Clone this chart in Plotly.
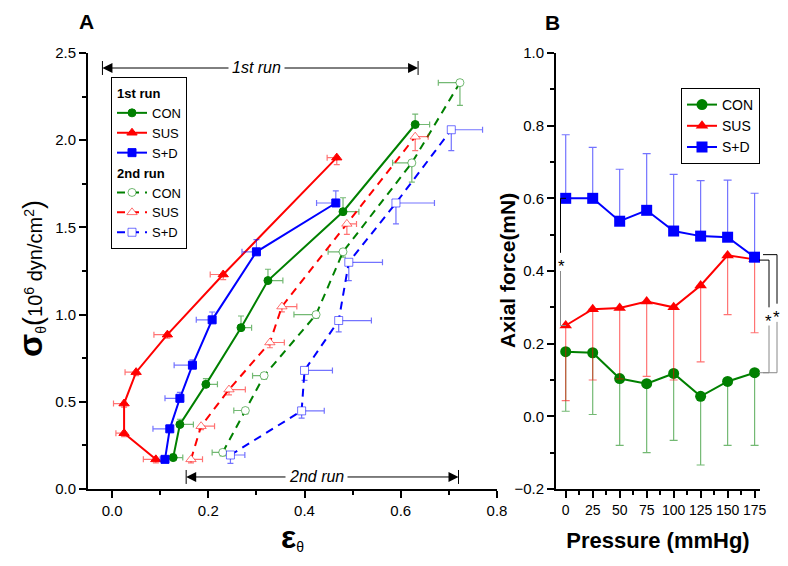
import plotly.graph_objects as go

# ---- panel A : circumferential stress vs strain ----
strain_con1 = [0.127, 0.141, 0.195, 0.268, 0.324, 0.480, 0.630]
stress_con1 = [0.18, 0.37, 0.60, 0.925, 1.195, 1.59, 2.09]
strain_con1_err = [0.020, 0.028, 0.024, 0.022, 0.031, 0.033, 0.030]
stress_con1_err = [0.02, 0.03, 0.033, 0.067, 0.065, 0.08, 0.06]

strain_sus1 = [0.091, 0.025, 0.025, 0.050, 0.115, 0.231, 0.467]
stress_sus1 = [0.17, 0.32, 0.49, 0.67, 0.885, 1.23, 1.90]
strain_sus1_err = [0.026, 0.017, 0.022, 0.023, 0.028, 0.027, 0.020]
stress_sus1_err = [0.02, 0.02, 0.02, 0.02, 0.02, 0.03, 0.04]

strain_sd1 = [0.110, 0.120, 0.141, 0.167, 0.208, 0.300, 0.465]
stress_sd1 = [0.17, 0.345, 0.52, 0.71, 0.97, 1.36, 1.64]
strain_sd1_err = [0.010, 0.035, 0.031, 0.038, 0.033, 0.030, 0.040]
stress_sd1_err = [0.01, 0.02, 0.034, 0.03, 0.045, 0.07, 0.07]

strain_con2 = [0.230, 0.277, 0.316, 0.424, 0.480, 0.623, 0.723]
stress_con2 = [0.21, 0.45, 0.65, 1.00, 1.36, 1.87, 2.33]
strain_con2_err = [0.022, 0.024, 0.024, 0.046, 0.031, 0.040, 0.045]
stress_con2_err = [0.02, 0.02, 0.02, 0.02, 0.03, 0.11, 0.13]

strain_sus2 = [0.164, 0.185, 0.243, 0.328, 0.353, 0.488, 0.630]
stress_sus2 = [0.17, 0.36, 0.57, 0.84, 1.046, 1.52, 2.02]
strain_sus2_err = [0.024, 0.028, 0.034, 0.030, 0.031, 0.020, 0.027]
stress_sus2_err = [0.02, 0.02, 0.03, 0.03, 0.03, 0.06, 0.08]

strain_sd2 = [0.246, 0.394, 0.400, 0.471, 0.492, 0.590, 0.705]
stress_sd2 = [0.195, 0.448, 0.68, 0.966, 1.30, 1.64, 2.06]
strain_sd2_err = [0.030, 0.047, 0.058, 0.068, 0.070, 0.080, 0.065]
stress_sd2_err = [0.048, 0.042, 0.057, 0.065, 0.105, 0.12, 0.12]

# ---- panel B : axial force vs pressure ----
pressure = [0, 25, 50, 75, 100, 125, 150, 175]
force_con = [0.178, 0.175, 0.104, 0.090, 0.118, 0.055, 0.096, 0.120]
force_con_err = [0.164, 0.170, 0.184, 0.190, 0.184, 0.189, 0.176, 0.200]
force_sus = [0.250, 0.295, 0.298, 0.316, 0.300, 0.360, 0.443, 0.432]
force_sus_err = [0.207, 0.195, 0.195, 0.206, 0.200, 0.210, 0.163, 0.202]
force_sd = [0.600, 0.600, 0.537, 0.567, 0.510, 0.496, 0.493, 0.438]
force_sd_err = [0.175, 0.140, 0.143, 0.156, 0.156, 0.153, 0.157, 0.176]

GREEN = 'rgb(0,128,0)'
RED = 'rgb(255,0,0)'
BLUE = 'rgb(0,0,255)'
GREEN_L = 'rgba(0,128,0,0.55)'
RED_L = 'rgba(255,0,0,0.55)'
BLUE_L = 'rgba(0,0,255,0.55)'
FONT = 'Liberation Sans, Arial, sans-serif'

# the page body keeps its 8px default margin, so the figure is drawn 8px in from the corner
W, H, OFF = 772, 550, 8


def px(x):
    return (x - OFF) / W


def py(y):
    return 1 - (y - OFF) / H


def err(vals, side):
    zeros = [0] * len(vals)
    if side == 'plus':
        return dict(array=vals, arrayminus=zeros)
    return dict(array=zeros, arrayminus=vals)


def strain_trace(x, y, xe, ye, xside, yside, name, color, light, symbol, dashed, group, title):
    open_marker = dashed
    return go.Scatter(
        x=x, y=y, name=name, mode='lines+markers',
        line=dict(color=color, width=2, dash='8px,6px' if dashed else 'solid'),
        marker=dict(symbol=symbol, size=8 if symbol != 'triangle-up' else 9,
                    color='white' if open_marker else color,
                    line=dict(color=light if open_marker else color, width=1)),
        error_x=dict(type='data', symmetric=False, color=light, thickness=1.2, width=3, **err(xe, xside)),
        error_y=dict(type='data', symmetric=False, color=light, thickness=1.2, width=3, **err(ye, yside)),
        legendgroup=group, legendgrouptitle=dict(text=title) if title else None,
        legend='legend', xaxis='x', yaxis='y',
    )


def force_trace(y, ye, side, name, color, light, symbol):
    return go.Scatter(
        x=pressure, y=y, name=name, mode='lines+markers',
        line=dict(color=color, width=2),
        marker=dict(symbol=symbol, size=11, color=color),
        error_y=dict(type='data', symmetric=False, color=light, thickness=1.2, width=4, **err(ye, side)),
        legend='legend2', xaxis='x2', yaxis='y2',
    )


fig = go.Figure()
fig.add_trace(strain_trace(strain_con1, stress_con1, strain_con1_err, stress_con1_err, 'plus', 'plus',
                           'CON', GREEN, GREEN_L, 'circle', False, 'run1', '1st run'))
fig.add_trace(strain_trace(strain_sus1, stress_sus1, strain_sus1_err, stress_sus1_err, 'minus', 'minus',
                           'SUS', RED, RED_L, 'triangle-up', False, 'run1', None))
fig.add_trace(strain_trace(strain_sd1, stress_sd1, strain_sd1_err, stress_sd1_err, 'minus', 'plus',
                           'S+D', BLUE, BLUE_L, 'square', False, 'run1', None))
fig.add_trace(strain_trace(strain_con2, stress_con2, strain_con2_err, stress_con2_err, 'minus', 'minus',
                           'CON', GREEN, GREEN_L, 'circle', True, 'run2', '2nd run'))
fig.add_trace(strain_trace(strain_sus2, stress_sus2, strain_sus2_err, stress_sus2_err, 'plus', 'minus',
                           'SUS', RED, RED_L, 'triangle-up', True, 'run2', None))
fig.add_trace(strain_trace(strain_sd2, stress_sd2, strain_sd2_err, stress_sd2_err, 'plus', 'minus',
                           'S+D', BLUE, BLUE_L, 'square', True, 'run2', None))

fig.add_trace(force_trace(force_con, force_con_err, 'minus', 'CON', GREEN, GREEN_L, 'circle'))
fig.add_trace(force_trace(force_sus, force_sus_err, 'minus', 'SUS', RED, RED_L, 'triangle-up'))
fig.add_trace(force_trace(force_sd, force_sd_err, 'plus', 'S+D', BLUE, BLUE_L, 'square'))

axis_style = dict(showline=True, linecolor='black', linewidth=1.8, ticks='outside', ticklen=7,
                  tickwidth=1.5, tickcolor='black', showgrid=False, zeroline=False, automargin=False,
                  tickfont=dict(family=FONT, size=15, color='black'))


def minor(d):
    return dict(ticks='outside', ticklen=4, tickwidth=1.5, tickcolor='black', dtick=d, showgrid=False)


fig.update_layout(
    width=W, height=H,
    margin=dict(l=0, r=0, t=0, b=0),
    plot_bgcolor='white', paper_bgcolor='white',
    font=dict(family=FONT, color='black'),
    xaxis=dict(axis_style, domain=[px(88), px(497)], range=[-0.05, 0.8], dtick=0.2, tickformat='.1f',
               minor=minor(0.1), anchor='y',
               title=dict(text='<span style="font-size:32px"><b>ε</b></span><sub>θ</sub>',
                          font=dict(size=20), standoff=0)),
    yaxis=dict(axis_style, domain=[py(489), py(53)], range=[0, 2.5], dtick=0.5, tickformat='.1f',
               minor=minor(0.25), anchor='x'),
    xaxis2=dict(axis_style, domain=[px(556), px(760)], range=[-9, 180], tickvals=pressure,
                minor=minor(12.5), anchor='y2', tickfont=dict(family=FONT, size=14, color='black'),
                title=dict(text='<b>Pressure (mmHg)</b>', font=dict(size=22), standoff=16)),
    yaxis2=dict(axis_style, domain=[py(489), py(53)], range=[-0.2, 1.0], dtick=0.2, tickformat='.1f',
                minor=minor(0.1), anchor='x2'),
    legend=dict(x=px(111), y=py(77), xanchor='left', yanchor='top', bgcolor='white',
                bordercolor='black', borderwidth=1, tracegroupgap=0, itemwidth=30,
                font=dict(size=13), grouptitlefont=dict(size=13, weight='bold')),
    legend2=dict(x=px(681), y=py(88), xanchor='left', yanchor='top', bgcolor='white',
                 bordercolor='black', borderwidth=1, itemwidth=30, font=dict(size=14)),
)

# y titles, placed close to their tick labels
fig.add_annotation(x=px(30), y=py(279), xref='paper', yref='paper',
                   text='<span style="font-size:34px"><b>σ</b></span><sub>θ</sub>'
                        '<span style="font-size:27px">(</span>10<sup>6</sup> dyn/cm<sup>2</sup>'
                        '<span style="font-size:27px">)</span>',
                   textangle=-90, showarrow=False, xanchor='center', yanchor='middle', font=dict(size=20))
fig.add_annotation(x=px(507), y=py(271), xref='paper', yref='paper', text='<b>Axial force(mN)</b>',
                   textangle=-90, showarrow=False, xanchor='center', yanchor='middle', font=dict(size=21))

# panel letters
fig.add_annotation(x=px(86), y=py(8.5), xref='paper', yref='paper', text='<b>A</b>', showarrow=False,
                   xanchor='center', yanchor='top', font=dict(size=21))
fig.add_annotation(x=px(552), y=py(9.5), xref='paper', yref='paper', text='<b>B</b>', showarrow=False,
                   xanchor='center', yanchor='top', font=dict(size=21))


# run range arrows in panel A
def run_arrow(x0, x1, xm, y, label):
    for end in (x0, x1):
        fig.add_annotation(x=end, y=y, ax=xm, ay=y, xref='x', yref='y', axref='x', ayref='y', text='',
                           showarrow=True, arrowhead=2, arrowsize=2, arrowwidth=1, arrowcolor='black')
        fig.add_shape(type='line', x0=end, x1=end, y0=y - 0.04, y1=y + 0.04, xref='x', yref='y',
                      line=dict(color='black', width=1))
    fig.add_annotation(x=xm, y=y, xref='x', yref='y', text='<i>' + label + '</i>', showarrow=False,
                       bgcolor='white', font=dict(size=16), borderpad=3)


run_arrow(-0.02, 0.636, 0.30, 2.414, '1st run')
run_arrow(0.154, 0.72, 0.424, 0.069, '2nd run')


# significance brackets in panel B
def bracket(xin, xout, ytop, ybot, ygap0, ygap1, xstar, ystar):
    fig.add_shape(type='path', xref='paper', yref='y2',
                  path=f'M {px(xin)},{ytop} H {px(xout)} V {ygap0}', line=dict(color='black', width=1))
    fig.add_shape(type='path', xref='paper', yref='y2',
                  path=f'M {px(xout)},{ygap1} V {ybot} H {px(xin)}', line=dict(color='#888', width=1))
    fig.add_annotation(x=px(xstar), y=ystar, xref='paper', yref='y2', text='*', showarrow=False,
                       xanchor='center', yanchor='middle', font=dict(size=17), yshift=-5)


bracket(566, 560.5, 0.60, 0.25, 0.45, 0.40, 561, 0.425)
bracket(759, 769, 0.43, 0.12, 0.30, 0.25, 768.5, 0.275)
bracket(763, 777, 0.445, 0.12, 0.31, 0.26, 776.5, 0.285)

fig.write_html("out.html")
